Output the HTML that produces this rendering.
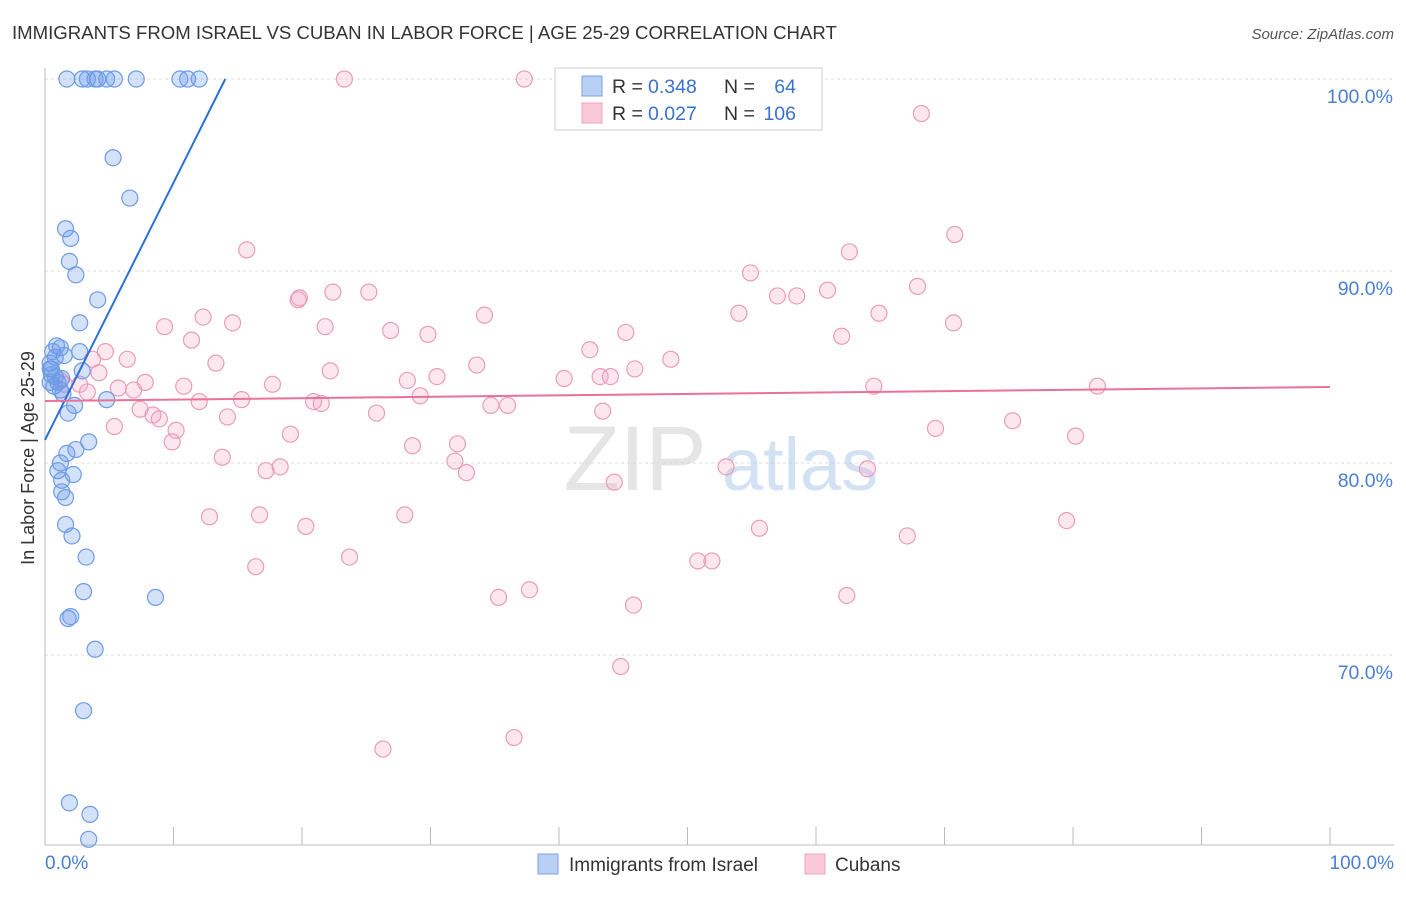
<!DOCTYPE html>
<html><head><meta charset="utf-8"><style>
body{margin:0;background:#fff;font-family:"Liberation Sans",sans-serif;}
svg text{font-family:"Liberation Sans",sans-serif;}
</style></head><body>
<svg id="chart" width="1406" height="892">
<text x="12" y="39" font-size="18.6" fill="#333">IMMIGRANTS FROM ISRAEL VS CUBAN IN LABOR FORCE | AGE 25-29 CORRELATION CHART</text>
<text x="1394" y="39" font-size="15" fill="#555" font-style="italic" text-anchor="end">Source: ZipAtlas.com</text>
<g id="grid"></g>
<g>
<text x="635" y="490" font-size="92" fill="#d4d4d4" opacity="0.6" text-anchor="middle" font-family="Liberation Serif">ZIP</text>
<text x="800" y="490" font-size="74" fill="#a9c4ea" opacity="0.5" text-anchor="middle">atlas</text>
</g>
<g id="pts"></g>
<g id="lines"></g>
<text transform="translate(34,458) rotate(-90)" font-size="18" fill="#333" text-anchor="middle">In Labor Force | Age 25-29</text>
<text x="45" y="869" font-size="19" fill="#4a7fd4">0.0%</text>
<text x="1394" y="869" font-size="19" fill="#4a7fd4" text-anchor="end">100.0%</text>
<g>
<rect x="555" y="68" width="267" height="62" fill="#fff" stroke="#ccc"/>
<rect x="582" y="76" width="20" height="20" fill="#b9d0f5" stroke="#7aa3e5"/>
<rect x="582" y="103" width="20" height="20" fill="#f9c9d8" stroke="#eea5bf"/>
<text x="612" y="93" font-size="19.5" fill="#333">R =</text>
<text x="648" y="93" font-size="19.5" fill="#3a72d0">0.348</text>
<text x="724" y="93" font-size="19.5" fill="#333">N =</text>
<text x="796" y="93" font-size="19.5" fill="#3a72d0" text-anchor="end">64</text>
<text x="612" y="120" font-size="19.5" fill="#333">R =</text>
<text x="648" y="120" font-size="19.5" fill="#3a72d0">0.027</text>
<text x="724" y="120" font-size="19.5" fill="#333">N =</text>
<text x="796" y="120" font-size="19.5" fill="#3a72d0" text-anchor="end">106</text>
</g>
<g>
<rect x="538" y="854" width="20" height="20" fill="#b9d0f5" stroke="#7aa3e5"/>
<text x="569" y="871" font-size="19" fill="#333">Immigrants from Israel</text>
<rect x="805" y="854" width="20" height="20" fill="#f9c9d8" stroke="#eea5bf"/>
<text x="835" y="871" font-size="19" fill="#333">Cubans</text>
</g>
</svg>
<script>
const yTicks=[70,80,90,100];
const yTickLabels=["70.0%","80.0%","90.0%","100.0%"];
const xTicks=[0,10,20,30,40,50,60,70,80,90,100];
const blueX=[1.7,2.9,3.3,3.9,4.1,4.8,5.4,7.1,10.5,11.1,12.0,5.3,6.6,1.6,2.0,1.9,2.4,4.1,2.7,0.9,1.2,0.6,2.7,1.5,0.8,0.4,0.5,2.9,0.8,0.4,0.7,1.2,1.4,4.8,2.3,1.8,3.4,2.4,1.7,1.2,1.0,2.2,1.3,1.3,1.6,1.6,2.1,3.2,3.0,8.6,2.0,1.8,3.9,3.0,1.9,3.5,3.4,0.4,0.5,1.0,1.3];
const blueY=[100,100,100,100,100,100,100,100,100,100,100,95.9,93.8,92.2,91.7,90.5,89.8,88.5,87.3,86.1,86.0,85.8,85.8,85.6,85.5,85.2,84.9,84.8,84.5,84.2,84.0,83.8,83.6,83.3,83.0,82.6,81.1,80.7,80.5,80.0,79.6,79.4,79.1,78.5,78.2,76.8,76.2,75.1,73.3,73.0,72.0,71.9,70.3,67.1,62.3,61.7,60.4,84.9,84.6,84.2,84.4];
const pinkX=[23.3,37.3,68.2,70.8,15.7,62.6,54.9,19.8,22.4,25.2,19.7,57.0,58.5,60.9,67.9,12.3,34.2,54.0,64.9,9.3,14.6,21.8,26.9,29.8,45.2,62.0,70.7,11.4,4.7,6.4,3.7,13.3,33.6,42.4,48.7,45.9,43.2,44.0,22.2,40.4,30.5,28.2,4.2,7.8,10.8,17.7,64.5,81.9,2.7,1.2,1.5,6.9,5.7,3.3,29.2,15.3,12.0,20.9,21.5,34.7,36.0,7.4,25.8,43.4,8.4,8.9,14.2,5.4,10.2,75.3,69.3,80.2,9.9,19.1,28.6,32.1,31.9,13.8,32.8,18.3,17.2,53.0,44.3,64.0,12.8,16.7,28.0,20.3,55.6,79.5,67.1,23.7,16.4,50.8,51.9,37.7,35.3,45.8,62.4,44.8,26.3,36.5];
const pinkY=[100,100,98.2,91.9,91.1,91.0,89.9,88.6,88.9,88.9,88.5,88.7,88.7,89.0,89.2,87.6,87.7,87.8,87.8,87.1,87.3,87.1,86.9,86.7,86.8,86.6,87.3,86.4,85.8,85.4,85.4,85.2,85.1,85.9,85.4,84.9,84.5,84.5,84.8,84.4,84.5,84.3,84.7,84.2,84.0,84.1,84.0,84.0,84.1,84.3,84.1,83.8,83.9,83.7,83.5,83.3,83.2,83.2,83.1,83.0,83.0,82.8,82.6,82.7,82.5,82.3,82.4,81.9,81.7,82.2,81.8,81.4,81.1,81.5,80.9,81.0,80.1,80.3,79.5,79.8,79.6,79.8,79.0,79.7,77.2,77.3,77.3,76.7,76.6,77.0,76.2,75.1,74.6,74.9,74.9,73.4,73.0,72.6,73.1,69.4,65.1,65.7];
const blueTrend=[81.2,1.34];
const pinkTrend=[83.23,0.0073];
const X=v=>45+v*12.85, Y=v=>79+(100-v)*19.2;
const NS="http://www.w3.org/2000/svg";
function mk(tag,attrs,parent){const e=document.createElementNS(NS,tag);for(const k in attrs)e.setAttribute(k,attrs[k]);parent.appendChild(e);return e;}
const grid=document.getElementById('grid');
yTicks.forEach((t,i)=>{
 const l=mk('line',{x1:45,x2:1394,y1:Y(t),y2:Y(t),stroke:'#ddd','stroke-dasharray':'3,3'},grid);
 
 
 const tx=mk('text',{x:1393,y:Y(t)+24,'font-size':19.5,fill:'#4a7fd4','text-anchor':'end'},grid);
 tx.textContent=yTickLabels[i];
 
 
});
const ax=mk('line',{x1:45,x2:45,y1:68,y2:845,stroke:'#bbb'},grid);


const bx=mk('line',{x1:45,x2:1394,y1:845,y2:845,stroke:'#bbb'},grid);


xTicks.forEach(t=>{
 const l=mk('line',{x1:X(t),x2:X(t),y1:827,y2:845,stroke:'#bbb'},grid);
 
 
});
const pts=document.getElementById('pts');
pinkX.forEach((x,i)=>{
 const c=mk('circle',{cx:X(x),cy:Y(pinkY[i]),r:8,fill:'rgba(244,160,190,0.25)',stroke:'#eb9cb8','stroke-width':1.2},pts);
 
 
});
blueX.forEach((x,i)=>{
 const c=mk('circle',{cx:X(x),cy:Y(blueY[i]),r:8,fill:'rgba(110,155,235,0.3)',stroke:'#6d9be6','stroke-width':1.2},pts);
 
 
});
const lines=document.getElementById('lines');
const bEnd=(100-blueTrend[0])/blueTrend[1];
const bl=mk('line',{x1:X(0),y1:Y(blueTrend[0]),x2:X(bEnd),y2:Y(100),stroke:'#2f6fd6','stroke-width':2},lines);


const pl=mk('line',{x1:X(0),y1:Y(pinkTrend[0]),x2:X(100),y2:Y(pinkTrend[0]+pinkTrend[1]*100),stroke:'#e8729a','stroke-width':2},lines);


</script>
</body></html>
